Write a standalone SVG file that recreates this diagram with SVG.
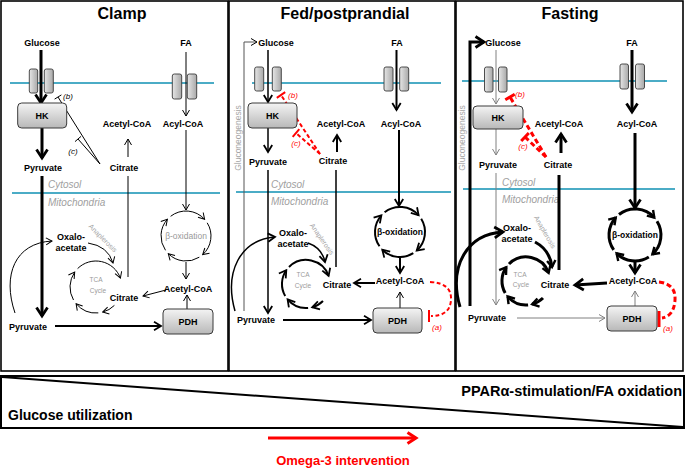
<svg xmlns="http://www.w3.org/2000/svg" width="685" height="469" viewBox="0 0 685 469">
<defs>
<linearGradient id="gb" x1="0" y1="0" x2="0" y2="1"><stop offset="0" stop-color="#f4f4f4"/><stop offset="1" stop-color="#b8b8b8"/></linearGradient>
<linearGradient id="gt" x1="0" y1="0" x2="1" y2="0"><stop offset="0" stop-color="#e6e6e6"/><stop offset="1" stop-color="#a8a8a8"/></linearGradient>
<marker id="m1" viewBox="0 0 10 10" refX="9" refY="5" markerWidth="10" markerHeight="10" markerUnits="userSpaceOnUse" orient="auto"><path d="M3,1.5 L9,5 L3,8.5" fill="none" stroke="#000" stroke-width="1"/></marker>
<marker id="mg" viewBox="0 0 10 10" refX="9" refY="5" markerWidth="10" markerHeight="10" markerUnits="userSpaceOnUse" orient="auto"><path d="M3,1.5 L9,5 L3,8.5" fill="none" stroke="#808080" stroke-width="1"/></marker>
<marker id="m2" viewBox="0 0 12 12" refX="10" refY="6" markerWidth="12" markerHeight="12" markerUnits="userSpaceOnUse" orient="auto"><path d="M3,1.8 L10,6 L3,10.2" fill="none" stroke="#000" stroke-width="1.8"/></marker>
<marker id="m3" viewBox="0 0 16 16" refX="12.5" refY="8" markerWidth="16" markerHeight="16" markerUnits="userSpaceOnUse" orient="auto"><path d="M4,2.5 L12.5,8 L4,13.5" fill="none" stroke="#000" stroke-width="2.8"/></marker>
<marker id="m3s" viewBox="0 0 14 14" refX="11" refY="7" markerWidth="14" markerHeight="14" markerUnits="userSpaceOnUse" orient="auto"><path d="M4.5,2.8 L11,7 L4.5,11.2" fill="none" stroke="#000" stroke-width="2.4"/></marker>
<marker id="mr" viewBox="0 0 16 16" refX="12.5" refY="8" markerWidth="16" markerHeight="16" markerUnits="userSpaceOnUse" orient="auto"><path d="M4,2.5 L12.5,8 L4,13.5" fill="none" stroke="#f00" stroke-width="3"/></marker>
</defs>
<style>
text{font-family:"Liberation Sans",Arial,sans-serif}
.lb{font-weight:bold;font-size:9px;text-anchor:middle;fill:#000}
.ti{font-weight:bold;font-size:16px;text-anchor:middle;fill:#000}
.gy{font-style:italic;font-size:10px;fill:#a0a0a0}
.sm{font-size:6.5px;fill:#9a9a9a;text-anchor:middle}
.an{font-size:7px;fill:#a6a6a6;text-anchor:middle}
.gl{font-size:8.5px;fill:#a6a6a6;text-anchor:middle}
.lt{font-style:italic;font-size:8px;text-anchor:middle;fill:#000}
.rd{fill:#f00}
.bx{fill:url(#gb);stroke:#3a3a3a;stroke-width:1}
.tr{fill:url(#gt);stroke:#3a3a3a;stroke-width:0.9}
.mem{stroke:#4bacc6;stroke-width:2;fill:none}
.frame{fill:none;stroke:#000;stroke-width:1.6}
.l1{fill:none;stroke:#000;stroke-width:1}
.l15{fill:none;stroke:#000;stroke-width:1.5}
.l2{fill:none;stroke:#000;stroke-width:2}
.l3{fill:none;stroke:#000;stroke-width:3}
.lg{fill:none;stroke:#808080;stroke-width:1}
.r2{fill:none;stroke:#f00;stroke-width:2;stroke-dasharray:4 2.5}
.r3{fill:none;stroke:#f00;stroke-width:3;stroke-dasharray:5 3}
.rt2{stroke:#f00;stroke-width:2}
.rt3{stroke:#f00;stroke-width:3}
.halo{stroke:#fff;stroke-width:2.5;paint-order:stroke}
</style>
<rect width="685" height="469" fill="#fff"/>

<g id="frames">
<rect class="frame" x="1" y="1" width="227" height="370"/>
<rect class="frame" x="229" y="1" width="226" height="370"/>
<rect class="frame" x="456" y="1" width="227" height="370"/>
</g>

<!-- ================= PANEL 1: Clamp ================= -->
<g id="panel-clamp">
<text class="ti" x="122" y="19">Clamp</text>
<path class="mem" d="M10,83 L214,83"/>
<path class="mem" d="M12,193 L220,193"/>
<text class="gy" x="48" y="188">Cytosol</text>
<text class="gy" x="48" y="206">Mitochondria</text>
<g id="c-connectors">
<path class="l3" d="M41,50 L41,103" marker-end="url(#m3)"/>
<path class="l3" d="M42,128 L42,158" marker-end="url(#m3)"/>
<path class="l3" d="M42,176 L42,316" marker-end="url(#m3)"/>
<path class="l2" d="M55,326 L161,326" marker-end="url(#m2)"/>
<path class="l1" d="M15,313 C2,275 15,243 52,241" stroke-width="1.2" marker-end="url(#m1)"/>
<path class="l1" d="M100,164 L58,97 M54.6,99.1 L61.4,94.9" stroke-width="0.8"/>
<path class="l1" d="M100,164 L78,139 M75,141.6 L81,136.4" stroke-width="0.8"/>
<path class="l1" d="M128,157 L128,139" marker-end="url(#m1)"/>
<path class="l1" d="M128,277 L128,176"/>
<path class="l1" d="M186,52 L186,116" marker-end="url(#m1)"/>
<path class="l1" d="M186,130 L186,210" marker-end="url(#m1)"/>
<path class="l1" d="M186,262 L186,279" marker-end="url(#m1)"/>
<path class="l1" d="M187,309 L187,295" marker-end="url(#m1)"/>
<path class="l1" d="M166,290 L143,296" marker-end="url(#m1)"/>
<path class="l1" d="M88,243 Q108,246 113,263" marker-end="url(#m1)"/>
<path class="l1" d="M114.4,305.4 A26,26 0 0 1 102.7,312.1" marker-end="url(#m1)"/>
<path class="l1" d="M98.3,312.9 A26,26 0 0 1 76.1,303.7" marker-end="url(#m1)"/>
<path class="l1" d="M73.5,300 A26,26 0 0 1 74.7,272.1" marker-end="url(#m1)"/>
<path class="l1" d="M77.6,268.6 A26,26 0 0 1 120.4,278.1" marker-end="url(#m1)"/>
<path class="l1" d="M165.5,250.3 A25,25 0 0 1 167.4,219.3" marker-end="url(#m1)"/>
<path class="l1" d="M170.6,216.3 A25,25 0 0 1 204.6,219.3" marker-end="url(#m1)"/>
<path class="l1" d="M207.2,222.8 A25,25 0 0 1 202.7,254.6" marker-end="url(#m1)"/>
<path class="l1" d="M199.3,257.2 A25,25 0 0 1 168.3,253.7" marker-end="url(#m1)"/>
</g>
<g id="c-glut"><rect class="tr" x="29.3" y="69" width="8.4" height="24" rx="2"/><rect class="tr" x="44.3" y="69" width="9" height="24" rx="2"/></g>
<g id="c-fat"><rect class="tr" x="172.3" y="74" width="9.4" height="25" rx="2"/><rect class="tr" x="187.3" y="74" width="9.4" height="25" rx="2"/></g>
<g id="c-hk"><rect class="bx" x="17.7" y="103" width="49" height="25" rx="4"/><text class="lb" x="42" y="119">HK</text></g>
<g id="c-pdh"><rect class="bx" x="163" y="309" width="50" height="25" rx="4"/><text class="lb" x="188" y="325">PDH</text></g>
<text class="lb" x="42" y="46">Glucose</text>
<text class="lb" x="186" y="46">FA</text>
<text class="lb" x="127" y="127">Acetyl-CoA</text>
<text class="lb" x="183" y="127">Acyl-CoA</text>
<text class="lb" x="43" y="171">Pyruvate</text>
<text class="lb" x="124" y="171">Citrate</text>
<text class="lt" x="68" y="99">(b)</text>
<text class="lt" x="73" y="154">(c)</text>
<text class="lb" x="71" y="240">Oxalo-</text>
<text class="lb" x="71" y="251">acetate</text>
<text class="an" transform="translate(103,238) rotate(45)" y="2.5">Anaplerosis</text>
<text class="sm" x="96" y="282">TCA</text>
<text class="sm" x="98" y="293">Cycle</text>
<text class="lb halo" x="124" y="301">Citrate</text>
<text x="186" y="239" style="font-size:8.5px;fill:#999;text-anchor:middle">β-oxidation</text>
<text class="lb" x="188" y="292">Acetyl-CoA</text>
<text class="lb" x="28" y="330">Pyruvate</text>
</g>

<!-- ================= PANEL 2: Fed ================= -->
<g id="panel-fed">
<text class="ti" x="345" y="19">Fed/postprandial</text>
<path class="mem" d="M252,83 L441,83"/>
<path class="mem" d="M236,192 L451,192"/>
<text class="gy" x="271" y="188">Cytosol</text>
<text class="gy" x="271" y="205">Mitochondria</text>
<text class="gl" transform="translate(238,138) rotate(-90)" y="3">Gluconeogenesis</text>
<g id="f-connectors">
<path d="M244,311 L244,42 L257,42" fill="none" stroke="#555" stroke-width="1" marker-end="url(#m1)"/>
<path class="l15" d="M268,50 L268,102" marker-end="url(#m2)"/>
<path class="l15" d="M268,128 L268,152" marker-end="url(#m2)"/>
<path class="l15" d="M268,170 L268,313" marker-end="url(#m2)"/>
<path class="l2" d="M396.5,50 L396.5,110" marker-end="url(#m2)"/>
<path class="l2" d="M399,130 L399,206" marker-end="url(#m2)"/>
<path class="l2" d="M400,257 L400,273" marker-end="url(#m2)"/>
<path class="l1" d="M400,308 L400,292" marker-end="url(#m1)"/>
<path class="l2" d="M375,283 L354,283" marker-end="url(#m2)"/>
<path class="l2" d="M337,152 L337,135" marker-end="url(#m2)"/>
<path class="l15" d="M336,170 L336,267"/>
<path class="l2" d="M283,320 L371,320" marker-end="url(#m2)"/>
<path class="l15" d="M235,311 C224,272 240,240 275,237" marker-end="url(#m2)"/>
<path class="l15" d="M308,243 Q322,248 325,262" marker-end="url(#m2)"/>
<path class="l2" d="M323,301 A24,24 0 0 1 312.2,307.2" marker-end="url(#m2)"/>
<path class="l2" d="M308.1,307.9 A24,24 0 0 1 287.6,299.4" marker-end="url(#m2)"/>
<path class="l2" d="M285.2,296 A24,24 0 0 1 286.3,270.2" marker-end="url(#m2)"/>
<path class="l2" d="M289,267 A24,24 0 0 1 328.6,275.8" marker-end="url(#m2)"/>
<path class="l2" d="M379.5,246.3 A25,25 0 0 1 381.4,215.3" marker-end="url(#m2)"/>
<path class="l2" d="M384.6,212.3 A25,25 0 0 1 418.6,215.3" marker-end="url(#m2)"/>
<path class="l2" d="M421.2,218.8 A25,25 0 0 1 416.7,250.6" marker-end="url(#m2)"/>
<path class="l2" d="M413.3,253.2 A25,25 0 0 1 382.3,249.7" marker-end="url(#m2)"/>
<path class="r2" d="M320,154 L281,95"/>
<path class="rt2" d="M276.8,97.8 L285.2,92.2"/>
<path class="r2" d="M320,154 L296,133"/>
<path class="rt2" d="M292.7,136.8 L299.3,129.2"/>
<path class="r2" d="M430,282 Q452,283 451,300 Q450,316 431,316"/>
<path class="rt2" d="M429,310 L429,322"/>
</g>
<g id="f-glut"><rect class="tr" x="254.7" y="67" width="9" height="24" rx="2"/><rect class="tr" x="272.3" y="67" width="9" height="24" rx="2"/></g>
<g id="f-fat"><rect class="tr" x="384" y="67" width="9" height="24" rx="2"/><rect class="tr" x="399.7" y="67" width="9" height="24" rx="2"/></g>
<g id="f-hk"><rect class="bx" x="248" y="103" width="49" height="25" rx="4"/><text class="lb" x="272.5" y="119">HK</text></g>
<g id="f-pdh"><rect class="bx" x="373" y="308" width="49" height="25" rx="4"/><text class="lb" x="397.5" y="323.5">PDH</text></g>
<text class="lb" x="276" y="46">Glucose</text>
<text class="lb" x="397" y="46">FA</text>
<text class="lb" x="341" y="127">Acetyl-CoA</text>
<text class="lb" x="401" y="127">Acyl-CoA</text>
<text class="lb" x="268" y="165">Pyruvate</text>
<text class="lb" x="333" y="164">Citrate</text>
<text class="lt rd" x="293" y="98">(b)</text>
<text class="lt rd" x="296" y="146">(c)</text>
<text class="lb" x="293" y="236">Oxalo-</text>
<text class="lb" x="293" y="247">acetate</text>
<text class="an" transform="translate(322,239) rotate(55)" y="2.5">Anaplerosis</text>
<text class="sm" x="303" y="277">TCA</text>
<text class="sm" x="303" y="288">Cycle</text>
<text class="lb halo" x="337" y="288">Citrate</text>
<text class="lb" x="400" y="235" style="font-size:8.5px">β-oxidation</text>
<text class="lb" x="400" y="284">Acetyl-CoA</text>
<text class="lb" x="256" y="323">Pyruvate</text>
<text class="lt rd" x="437" y="330">(a)</text>
</g>

<!-- ================= PANEL 3: Fasting ================= -->
<g id="panel-fasting">
<text class="ti" x="570" y="19">Fasting</text>
<path class="mem" d="M462,81 L667,81"/>
<path class="mem" d="M463,189 L675,189"/>
<text class="gy" x="502" y="186">Cytosol</text>
<text class="gy" x="502" y="203">Mitochondria</text>
<text class="gl" transform="translate(462,138) rotate(-90)" y="3">Gluconeogenesis</text>
<g id="s-connectors">
<path class="l3" d="M470,306 L470,42 L484,42" stroke-width="2.5" marker-end="url(#m3)"/>
<path class="lg" d="M496,50 L496,104" marker-end="url(#mg)"/>
<path class="lg" d="M496,129 L496,155" marker-end="url(#mg)"/>
<path class="lg" d="M496,173 L496,305" marker-end="url(#mg)"/>
<path class="l3" d="M632,50 L632,112" marker-end="url(#m3)"/>
<path class="l3" d="M635,133 L635,208" marker-end="url(#m3)"/>
<path class="l3" d="M635,261 L635,273" marker-end="url(#m3)"/>
<path class="lg" d="M635,306 L635,291" marker-end="url(#mg)"/>
<path class="l3" d="M607,283 L575,285" marker-end="url(#m3)"/>
<path class="l3" d="M561,153 L561,134" marker-end="url(#m3)"/>
<path class="l3" d="M559,175 L559,270"/>
<path class="lg" d="M517,318 L605,318" marker-end="url(#mg)"/>
<path class="l3" d="M460,307 C448,265 468,234 503,232" marker-end="url(#m3)"/>
<path class="l3" d="M535,242 Q550,250 552,267" stroke-width="2.5" marker-end="url(#m3s)"/>
<path class="l3" d="M543,298 A24,24 0 0 1 532.2,304.2" stroke-width="2.6" marker-end="url(#m3s)"/>
<path class="l3" d="M528.1,304.9 A24,24 0 0 1 507.6,296.4" stroke-width="2.6" marker-end="url(#m3s)"/>
<path class="l3" d="M505.2,293 A24,24 0 0 1 506.3,267.2" stroke-width="2.6" marker-end="url(#m3s)"/>
<path class="l3" d="M509,264 A24,24 0 0 1 548.6,272.8" stroke-width="2.6" marker-end="url(#m3s)"/>
<path class="l3" d="M613.7,249.9 A26,26 0 0 1 615.7,217.6" stroke-width="2.6" marker-end="url(#m3s)"/>
<path class="l3" d="M619,214.5 A26,26 0 0 1 654.3,217.6" stroke-width="2.6" marker-end="url(#m3s)"/>
<path class="l3" d="M657,221.2 A26,26 0 0 1 652.4,254.3" stroke-width="2.6" marker-end="url(#m3s)"/>
<path class="l3" d="M648.8,257 A26,26 0 0 1 616.6,253.4" stroke-width="2.6" marker-end="url(#m3s)"/>
<path class="r3" d="M546,157 L510,97"/>
<path class="rt3" d="M505.3,99.8 L514.7,94.2"/>
<path class="r3" d="M546,157 L525,137"/>
<path class="rt3" d="M521.2,141 L528.8,133"/>
<path class="r3" d="M659,282 Q676,284 675,300 Q674,316 662,318"/>
<path class="rt3" d="M659,311 L659,327"/>
</g>
<g id="s-glut"><rect class="tr" x="484.5" y="67" width="8.5" height="25" rx="2"/><rect class="tr" x="498.5" y="67" width="8.5" height="25" rx="2"/></g>
<g id="s-fat"><rect class="tr" x="620" y="64" width="8.5" height="25" rx="2"/><rect class="tr" x="635.5" y="64" width="9" height="25" rx="2"/></g>
<g id="s-hk"><rect class="bx" x="473" y="106" width="50" height="23" rx="4"/><text class="lb" x="498" y="120.5">HK</text></g>
<g id="s-pdh"><rect class="bx" x="607" y="306" width="50" height="25" rx="4"/><text class="lb" x="632" y="321.5">PDH</text></g>
<text class="lb" x="503" y="46">Glucose</text>
<text class="lb" x="632" y="46">FA</text>
<text class="lb" x="559" y="127">Acetyl-CoA</text>
<text class="lb" x="637" y="127">Acyl-CoA</text>
<text class="lb" x="498" y="168">Pyruvate</text>
<text class="lb" x="558" y="168">Citrate</text>
<text class="lt rd" x="520" y="97">(b)</text>
<text class="lt rd" x="523" y="149">(c)</text>
<text class="lb" x="517" y="231">Oxalo-</text>
<text class="lb" x="517" y="242">acetate</text>
<text class="an" transform="translate(545,232) rotate(60)" y="2.5">Anaplerosis</text>
<text class="sm" x="520" y="277">TCA</text>
<text class="sm" x="521" y="287">Cycle</text>
<text class="lb halo" x="555" y="288">Citrate</text>
<text class="lb" x="635" y="238" style="font-size:8.5px">β-oxidation</text>
<text class="lb" x="633" y="284">Acetyl-CoA</text>
<text class="lb" x="487" y="321">Pyruvate</text>
<text class="lt rd" x="668" y="331">(a)</text>
</g>

<!-- ================= Bottom gradient bar ================= -->
<g id="bottom-bar">
<rect x="1" y="376" width="683" height="52" fill="none" stroke="#000" stroke-width="2"/>
<path d="M2,377 L683,427" stroke="#000" stroke-width="2"/>
<text x="682" y="396" style="font-weight:bold;font-size:14.5px;text-anchor:end">PPARα-stimulation/FA oxidation</text>
<text x="8" y="420" style="font-weight:bold;font-size:14px">Glucose utilization</text>
</g>
<g id="omega3">
<path d="M268,438 L416,438" stroke="#f00" stroke-width="3" marker-end="url(#mr)"/>
<text x="343" y="465" style="font-weight:bold;font-size:13px;fill:#f00;text-anchor:middle">Omega-3 intervention</text>
</g>
</svg>
